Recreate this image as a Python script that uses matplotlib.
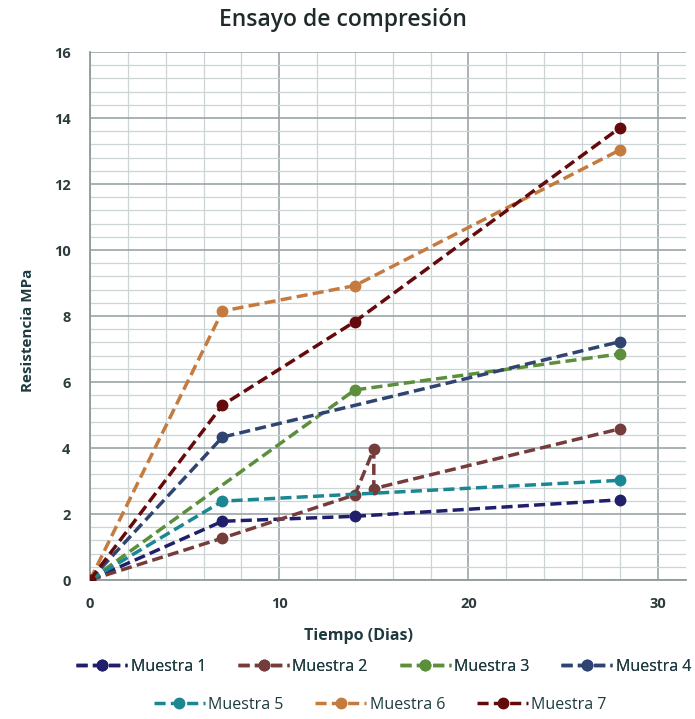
import matplotlib
matplotlib.use("Agg")
import matplotlib.pyplot as plt
from matplotlib.ticker import MultipleLocator

# Data
names = ["Muestra 1", "Muestra 2", "Muestra 3", "Muestra 4",
         "Muestra 5", "Muestra 6", "Muestra 7"]
x1 = [0, 7, 14, 28]
y1 = [0, 1.78, 1.93, 2.43]
x2 = [0, 7, 14, 15, 15, 28]
y2 = [0, 1.27, 2.58, 3.97, 2.77, 4.58]
x3 = [0, 14, 28]
y3 = [0, 5.76, 6.85]
x4 = [0, 7, 28]
y4 = [0, 4.33, 7.22]
x5 = [0, 7, 28]
y5 = [0, 2.39, 3.02]
x6 = [0, 7, 14, 28]
y6 = [0, 8.15, 8.92, 13.03]
x7 = [0, 7, 14, 28]
y7 = [0, 5.3, 7.83, 13.7]
colors = ["#1f1f6b", "#743c3a", "#5b8f3c", "#2f4470",
          "#1a8793", "#c57a3e", "#650a0c"]

xs = [x1, x2, x3, x4, x5, x6, x7]
ys = [y1, y2, y3, y4, y5, y6, y7]

plt.rcParams['font.family'] = ['Open Sans', 'DejaVu Sans']

fig = plt.figure(figsize=(6.95, 7.19), dpi=100)
ax = fig.add_axes([90/695, (719-580)/719, (686-90)/695, (580-52)/719])

handles = []
for xv, yv, c, n in zip(xs, ys, colors, names):
    h, = ax.plot(xv, yv, linestyle=(0, (3.2, 1.5)), color=c, linewidth=2.5,
                 marker='o', markersize=7.5, label=n, zorder=3)
    handles.append(h)

ax.set_xlim(0, 31.5)
ax.set_ylim(0, 16)
ax.xaxis.set_major_locator(MultipleLocator(10))
ax.xaxis.set_minor_locator(MultipleLocator(2))
ax.yaxis.set_major_locator(MultipleLocator(2))
ax.yaxis.set_minor_locator(MultipleLocator(0.4))
ax.grid(which='major', color='#9aa5a8', linewidth=1.2, zorder=0)
ax.grid(which='minor', color='#cdd4d6', linewidth=0.9, zorder=0)
ax.set_axisbelow(True)

for s in ['top', 'right']:
    ax.spines[s].set_visible(False)
for s in ['left', 'bottom']:
    ax.spines[s].set_color('#8f9a9d')
    ax.spines[s].set_linewidth(1.3)

ax.tick_params(which='both', length=0)
ax.tick_params(axis='x', pad=12)
ax.tick_params(axis='y', pad=14)
for lab in ax.get_xticklabels() + ax.get_yticklabels():
    lab.set_fontweight('bold')
    lab.set_fontsize(10.5)
    lab.set_color('#2e3b3d')

fig.text(343/695, 1 - 20/719, "Ensayo de compresión", ha='center', va='center',
         fontsize=16.5, fontweight='semibold', color='#1e2a2c')
fig.text(28/695, 1 - 330/719, "Resistencia MPa", rotation=90, ha='center',
         va='center', fontsize=11, fontweight='bold', color='#1e3a40')
fig.text(358/695, 1 - 636/719, "Tiempo (Dias)", ha='center', va='center',
         fontsize=11.5, fontweight='bold', color='#1e3a40')

leg1 = fig.legend(handles[:4], names[:4], loc='center',
                  bbox_to_anchor=(0.552, 1 - 667/719), ncol=4, frameon=False,
                  fontsize=11.5, handlelength=3.2, columnspacing=2.0,
                  handletextpad=0.2, labelcolor='#1e3a40')
leg2 = fig.legend(handles[4:], names[4:], loc='center',
                  bbox_to_anchor=(0.547, 1 - 705/719), ncol=3, frameon=False,
                  fontsize=11.5, handlelength=3.2, columnspacing=2.0,
                  handletextpad=0.2, labelcolor='#1e3a40')
fig.add_artist(leg1)

fig.savefig("out.png", dpi=100)
